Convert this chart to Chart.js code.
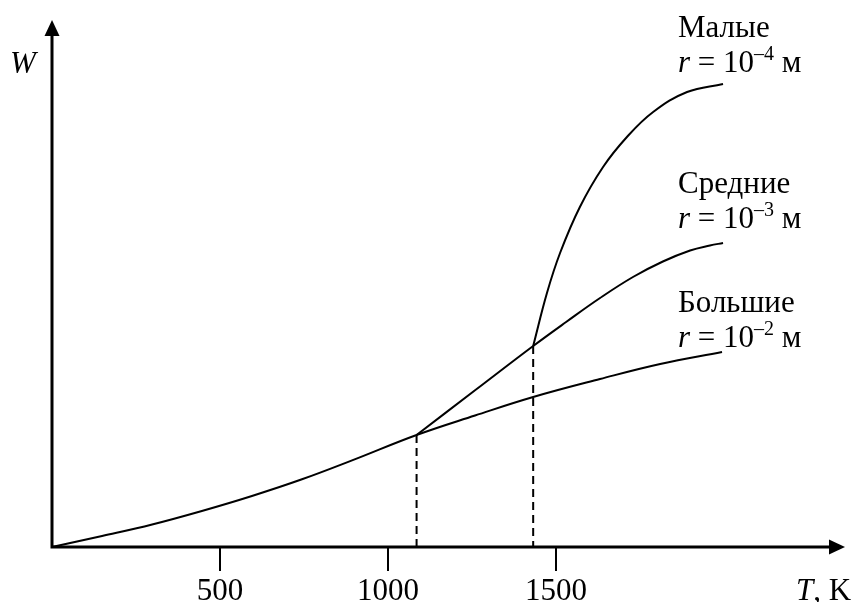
<!DOCTYPE html>
<html>
<head>
<meta charset="utf-8">
<script src="https://cdn.jsdelivr.net/npm/chart.js@4.4.0/dist/chart.umd.min.js"></script>
<style>
  body { margin: 0; background: #fff; }
  #wrap { width: 856px; height: 602px; }
</style>
</head>
<body>
<div id="wrap"><canvas id="grafico"></canvas></div>
<script>
// температура T, K и скорость W (усл. ед.)
var bigT = [0, 149, 298, 446, 595, 744, 893, 1085, 1259, 1432, 1631, 1810, 1994];
var bigW = [0, 1.1, 2.25, 3.6, 5.1, 6.77, 8.66, 11.2, 13.15, 15.0, 16.8, 18.3, 19.5];

var midT = [1085, 1259, 1432, 1530, 1631, 1729, 1818, 1899, 1958, 1997];
var midW = [11.2, 15.67, 20.1, 22.5, 24.9, 27.0, 28.55, 29.65, 30.15, 30.4];

var smallT = [1432, 1473, 1512, 1571, 1640, 1711, 1789, 1890, 1997];
var smallW = [20.1, 25.4, 29.4, 34.0, 38.0, 41.0, 43.5, 45.5, 46.3];

var tickValues = [500, 1000, 1500];
var tMax = 2360;
var wMax = 52.7;

var labels = [
    { name: 'Малые', exp: '–4' },
    { name: 'Средние', exp: '–3' },
    { name: 'Большие', exp: '–2' }
];
var labelBase = [72, 228, 347]; // базовая линия строки с r

function pts(ts, ws) {
    var out = [];
    for (var i = 0; i < ts.length; i++) out.push({ x: ts[i], y: ws[i] });
    return out;
}

var serif = '"Liberation Serif", "DejaVu Serif", serif';

var osiPlugin = {
    id: 'osi',
    afterDatasetsDraw: function(chart) {
        var c = chart.ctx;
        var sx = chart.scales.x, sy = chart.scales.y;
        var x0 = sx.getPixelForValue(0), y0 = sy.getPixelForValue(0);
        var xEnd = sx.getPixelForValue(tMax), yEnd = sy.getPixelForValue(wMax);
        c.save();
        c.strokeStyle = '#000';
        c.fillStyle = '#000';

        // пунктир
        c.lineWidth = 2;
        c.setLineDash([8, 5]);
        [[midT[0], midW[0]], [smallT[0], smallW[0]]].forEach(function(p) {
            var px = sx.getPixelForValue(p[0]);
            c.beginPath();
            c.moveTo(px, sy.getPixelForValue(p[1]));
            c.lineTo(px, y0);
            c.stroke();
        });
        c.setLineDash([]);

        // оси
        c.lineWidth = 3;
        c.beginPath();
        c.moveTo(x0, y0);
        c.lineTo(xEnd - 12, y0);
        c.moveTo(x0, y0 + 1.5);
        c.lineTo(x0, yEnd + 12);
        c.stroke();
        // стрелки
        c.beginPath();
        c.moveTo(xEnd, y0);
        c.lineTo(xEnd - 16, y0 - 7.5);
        c.lineTo(xEnd - 16, y0 + 7.5);
        c.closePath();
        c.fill();
        c.beginPath();
        c.moveTo(x0, yEnd);
        c.lineTo(x0 - 7.5, yEnd + 16);
        c.lineTo(x0 + 7.5, yEnd + 16);
        c.closePath();
        c.fill();

        // деления и подписи
        c.lineWidth = 2;
        c.font = '31px ' + serif;
        c.textAlign = 'center';
        c.textBaseline = 'alphabetic';
        tickValues.forEach(function(v) {
            var px = sx.getPixelForValue(v);
            c.beginPath();
            c.moveTo(px, y0);
            c.lineTo(px, y0 + 24);
            c.stroke();
            c.fillText(String(v), px, y0 + 53);
        });

        // подписи осей
        c.textAlign = 'left';
        c.font = 'italic 31px ' + serif;
        c.fillText('W', 10, 73);
        var tx = 796, ty = y0 + 53;
        c.fillText('T', tx, ty);
        tx += c.measureText('T').width;
        c.font = '31px ' + serif;
        c.fillText(', K', tx, ty);

        // подписи кривых
        labels.forEach(function(l, i) {
            var yr = labelBase[i];
            var lx = 678;
            c.font = '31px ' + serif;
            c.fillText(l.name, lx, yr - 35);
            c.font = 'italic 31px ' + serif;
            c.fillText('r', lx, yr);
            var x = lx + c.measureText('r').width;
            c.font = '31px ' + serif;
            c.fillText(' = 10', x, yr);
            x += c.measureText(' = 10').width;
            c.font = '20px ' + serif;
            c.fillText(l.exp, x, yr - 12);
            x += c.measureText(l.exp).width;
            c.font = '31px ' + serif;
            c.fillText(' м', x, yr);
        });
        c.restore();
    }
};

document.addEventListener("DOMContentLoaded", function() {
    var ctx = document.getElementById("grafico").getContext('2d');
    var linia = { borderColor: '#000', borderWidth: 2, pointRadius: 0, showLine: true,
                  tension: 0.4, fill: false, clip: false };
    var migrafica = new Chart(ctx, {
        type: 'scatter',
        data: {
            datasets: [
                Object.assign({ label: 'Большие', data: pts(bigT, bigW) }, linia),
                Object.assign({ label: 'Средние', data: pts(midT, midW) }, linia),
                Object.assign({ label: 'Малые', data: pts(smallT, smallW) }, linia)
            ]
        },
        options: {
            responsive: true,
            maintainAspectRatio: false,
            animation: false,
            layout: { padding: { left: 52, right: 11, top: 20, bottom: 55 } },
            plugins: { legend: { display: false }, tooltip: { enabled: false } },
            scales: {
                x: { type: 'linear', min: 0, max: tMax, display: false },
                y: { type: 'linear', min: 0, max: wMax, display: false }
            }
        },
        plugins: [osiPlugin]
    });
});
</script>
</body>
</html>
